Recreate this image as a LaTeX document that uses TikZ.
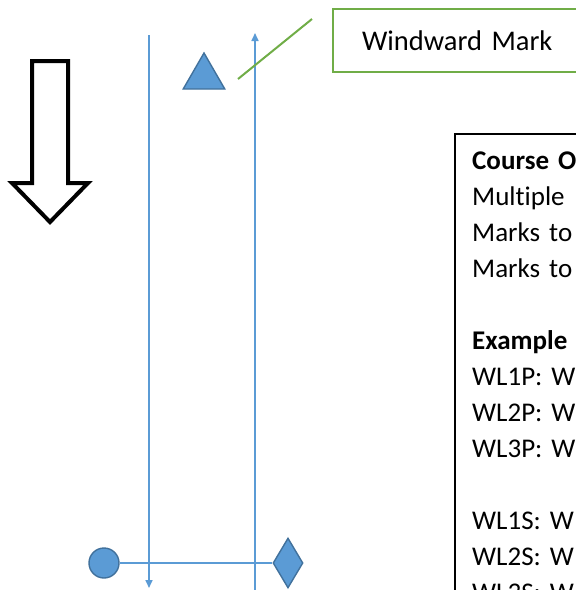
\documentclass[tikz,border=0pt]{standalone}
\usepackage{fontspec}
\setmainfont{Carlito}[Ligatures=NoCommon]
\usepackage{tikz}
\usepackage{xcolor}
\usetikzlibrary{shapes.geometric,arrows.meta}

\definecolor{markblue}{HTML}{5B9BD5}
\definecolor{markedge}{HTML}{41719C}
\definecolor{callgreen}{HTML}{70AD47}

\begin{document}
\begin{tikzpicture}[x=1pt, y=-1pt, line join=miter,
  >={Triangle[length=8pt,width=7pt]},
  leg/.style={draw=markblue, line width=1.6pt},
  buoy/.style={fill=markblue, draw=markedge, line width=1.4pt, inner sep=0pt}]
\useasboundingbox (0,0) rectangle (576,590);
\clip (0,0) rectangle (576,590);

% Wind direction arrow
\draw[line width=4pt] (32,61) -- (68,61) -- (68,183) -- (88,183) -- (50,222)
  -- (12,183) -- (32,183) -- cycle;

% Course legs
\draw[leg, ->] (149,35) -- (149,588);
\draw[leg, ->] (255,592) -- (255,33);

% Marks
\node[buoy, regular polygon, regular polygon sides=3, minimum size=48pt] (windward) at (204,77) {};
\node[buoy, circle, minimum size=30pt] (pin) at (104,563) {};
\node[buoy, diamond, minimum width=30pt, minimum height=50pt] (gate) at (288,563) {};

% Start line
\draw[leg] (pin) -- (gate);

% Callout for the windward mark
\node[draw=callgreen, line width=2pt, anchor=north west, minimum height=63pt,
  text width=220pt, inner xsep=29pt, font=\fontsize{28.5}{34}\selectfont] (windlbl) at (332,8) {Windward Mark};
\coordinate (calltip) at (238,79);
\coordinate (callend) at (312,19);
\draw[callgreen, line width=2pt] (calltip) -- (callend);

% Course options box
\node[draw, line width=2pt, anchor=north west, minimum width=200pt, minimum height=500pt] (optbox) at (454,133) {};
\node[anchor=base west, text width=200pt, align=left, inner sep=0pt,
  font=\fontsize{27}{36}\selectfont] (opttext) at (472,169)
  {\textbf{Course O}\\ Multiple\\ Marks to\\ Marks to\\[36pt]
   \textbf{Example}\\ WL1P: W\\ WL2P: W\\ WL3P: W\\[36pt]
   WL1S: W\\ WL2S: W\\ WL3S: W};

\end{tikzpicture}
\end{document}
